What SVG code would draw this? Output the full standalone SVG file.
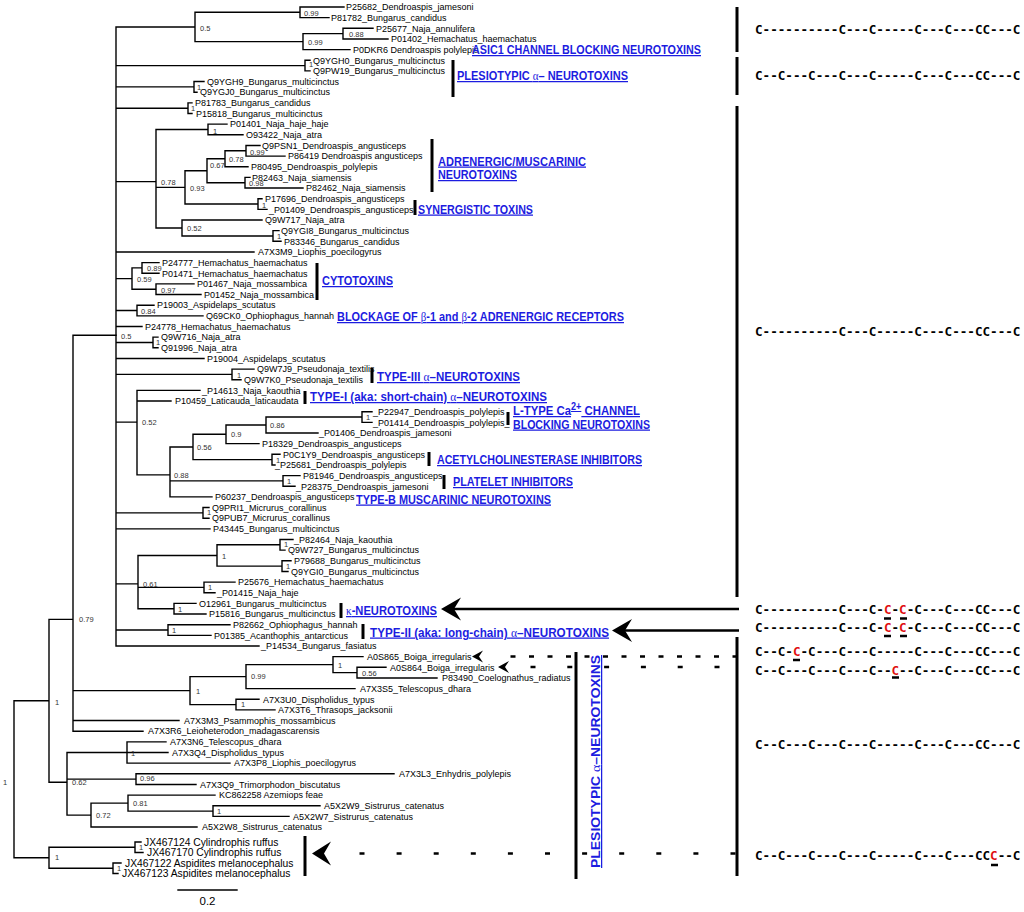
<svg xmlns="http://www.w3.org/2000/svg" width="1024" height="912" viewBox="0 0 1024 912">
<defs>
<style>
.e{stroke:#000;stroke-width:1.4;fill:none;stroke-linecap:square}
.t{font-family:"Liberation Sans",Arial,sans-serif;font-size:9px;fill:#000}
.j{font-family:"Liberation Sans",Arial,sans-serif;font-size:10.3px;fill:#000}
.s{font-family:"Liberation Sans",Arial,sans-serif;font-size:7.5px;fill:#333}
.lab{font-family:"Liberation Sans",Arial,sans-serif;font-weight:bold;font-size:12.5px;fill:#1c1ce0;text-decoration:underline}
.g{font-family:"Liberation Serif",serif;font-weight:normal}
.bar{stroke:#000;stroke-width:3;fill:none}
.cys{font-family:"DejaVu Sans Mono",monospace;font-weight:bold;font-size:12.6px;fill:#000}
.r{fill:#e01010}
.ah{fill:#000}
.dash{stroke:#000;stroke-width:2.6;fill:none}
</style>
</defs>
<rect width="1024" height="912" fill="#fff"/>

<g id="connectors">
<path class="e" d="M14,700.8V857.75M14,700.8H49M14,857.75H49
M49,619.4V782.2M49,619.4H73M49,782.2H67
M49,847.25V868.25M49,847.25H135M49,868.25H113
M135,842V852.5M135,842H141M135,852.5H143
M113,863V873.5M113,863H121M113,873.5H118
M73,335.3V731.2M73,335.3H116M73,690.6H190M73,720.55H179M73,731.2H143
M190,676.6V704.6M190,676.6H246M190,704.6H236
M246,664.6V688.6M246,664.6H333M246,688.6H355
M333,656.65V672.6M333,656.65H363M333,672.6H357
M357,667.3V677.95M357,667.3H386M357,677.95H437
M236,699.25V709.9M236,699.25H259M236,709.9H275
M67,752.5V815.1M67,752.5H127M67,779.1H136M67,815.1H91
M127,741.85V763.15M127,741.85H166M127,752.5H168M127,763.15H230
M136,773.8V784.45M136,773.8H394M136,784.45H196
M91,803.1V827.05M91,803.1H128M91,827.05H197
M128,795.1V811.1M128,795.1H215M128,811.1H213
M213,805.75V816.4M213,805.75H320M213,816.4H289"/>
<path class="e" d="M116,27V646
M116,27H195M116,65.6H305M116,86.9H194M116,108.2H188M116,181.6H156M116,251.95H254M116,278.6H132M116,310.5H137M116,326.5H142M116,342.5H153M116,358.45H204M116,374.4H232M116,422.1H137M116,512.9H203M116,528.85H210M116,583.9H138M116,630H168M116,646H259
M195,12.3V41.6M195,12.3H300M195,41.6H303
M300,7V17.65M300,7H344M300,17.65H329
M303,33.6V49.6M303,33.6H343M303,49.6H350
M343,28.3V38.95M343,28.3H373M343,38.95H388
M305,60.25V70.9M305,60.25H310M305,70.9H310
M194,81.55V92.2M194,81.55H204M194,92.2H197
M188,102.85V113.5M188,102.85H192M188,113.5H192
M156,129.5V228M156,129.5H208M156,187.4H185M156,228H182
M208,124.15V134.8M208,124.15H227M208,134.8H243
M185,170.7V204M185,170.7H207M185,204H258
M207,158.8V182.7M207,158.8H225M207,182.7H245
M225,150.8V166.75M225,150.8H246M225,166.75H248
M246,145.45V156.1M246,145.45H260M246,156.1H285
M245,177.4V188.05M245,177.4H250M245,188.05H303
M258,198.7V209.35M258,198.7H262M258,209.35H267
M182,220V236M182,220H262M182,236H273
M273,230.65V241.3M273,230.65H279M273,241.3H281
M132,267.9V289.2M132,267.9H142M132,289.2H156
M142,262.6V273.25M142,262.6H159M142,273.25H159
M156,283.9V294.55M156,283.9H194M156,294.55H201
M137,305.2V315.85M137,305.2H154M137,315.85H203
M153,337.15V347.8M153,337.15H158M153,347.8H158
M232,369.1V379.75M232,369.1H254M232,379.75H241
M137,390.4V474.9M137,390.4H200M137,401.05H171M137,474.9H170
M170,447V496.9M170,447H193M170,480.9H283M170,496.9H212
M193,434.3V459.6M193,434.3H226M193,459.6H272
M226,425V443.65M226,425H266M226,443.65H259
M266,417V433M266,417H362M266,433H318
M362,411.7V422.35M362,411.7H372M362,422.35H372
M272,454.3V464.95M272,454.3H280M272,464.95H275
M283,475.6V486.25M283,475.6H300M283,486.25H295
M203,507.55V518.2M203,507.55H209M203,518.2H209
M138,555.5V608.7M138,555.5H217M138,587.4H204M138,608.7H174
M217,544.8V566.1M217,544.8H280M217,566.1H282
M280,539.5V550.15M280,539.5H293M280,550.15H285
M282,560.8V571.45M282,560.8H291M282,571.45H288
M204,582.1V592.75M204,582.1H235M204,592.75H215
M174,603.4V614.05M174,603.4H196M174,614.05H206
M168,624.7V635.35M168,624.7H230M168,635.35H211"/>
</g>

<g id="support-values">
<text class="s" x="304" y="15.5">0.99</text>
<text class="s" x="200" y="30.5">0.5</text>
<text class="s" x="349" y="36.5">0.88</text>
<text class="s" x="308" y="45">0.99</text>
<text class="s" x="309" y="67">1</text>
<text class="s" x="197" y="89.5">1</text>
<text class="s" x="191" y="110.5">1</text>
<text class="s" x="213" y="133.5">1</text>
<text class="s" x="250" y="154.5">0.99</text>
<text class="s" x="229" y="161.5">0.78</text>
<text class="s" x="210" y="168">0.67</text>
<text class="s" x="249" y="185.5">0.98</text>
<text class="s" x="190" y="190.5">0.93</text>
<text class="s" x="262" y="208">1</text>
<text class="s" x="161" y="184.5">0.78</text>
<text class="s" x="187" y="230.5">0.52</text>
<text class="s" x="277" y="238.5">1</text>
<text class="s" x="147" y="270.5">0.89</text>
<text class="s" x="137" y="281.5">0.59</text>
<text class="s" x="161" y="292.5">0.97</text>
<text class="s" x="141" y="313.5">0.84</text>
<text class="s" x="121" y="338.5">0.5</text>
<text class="s" x="156" y="344.5">1</text>
<text class="s" x="237" y="377.5">1</text>
<text class="s" x="142" y="424.5">0.52</text>
<text class="s" x="366" y="419.5">1</text>
<text class="s" x="270" y="427.5">0.86</text>
<text class="s" x="231" y="436.5">0.9</text>
<text class="s" x="197" y="449.5">0.56</text>
<text class="s" x="276" y="462.5">1</text>
<text class="s" x="174" y="477.5">0.88</text>
<text class="s" x="287" y="483.5">1</text>
<text class="s" x="207" y="515">1</text>
<text class="s" x="222" y="558.5">1</text>
<text class="s" x="284" y="547">1</text>
<text class="s" x="286" y="569">1</text>
<text class="s" x="143" y="586.5">0.61</text>
<text class="s" x="208" y="590">1</text>
<text class="s" x="178" y="611.5">1</text>
<text class="s" x="79" y="621.5">0.79</text>
<text class="s" x="172" y="633">1</text>
<text class="s" x="338" y="667.5">1</text>
<text class="s" x="362" y="675.5">0.56</text>
<text class="s" x="251" y="678.5">0.99</text>
<text class="s" x="196" y="693.5">1</text>
<text class="s" x="241" y="706.5">1</text>
<text class="s" x="55" y="704.5">1</text>
<text class="s" x="131" y="755.5">1</text>
<text class="s" x="72" y="785">0.62</text>
<text class="s" x="140" y="781">0.96</text>
<text class="s" x="133" y="805.5">0.81</text>
<text class="s" x="217" y="813.5">1</text>
<text class="s" x="96" y="817.5">0.72</text>
<text class="s" x="3" y="784.5">1</text>
<text class="s" x="139" y="849.5">1</text>
<text class="s" x="117" y="870.5">1</text>
<text class="s" x="55" y="860">1</text>
</g>

<g id="leaves">
<g id="n00"><text class="t" x="346" y="10.2">P25682_Dendroaspis_jamesoni</text></g>
<g id="n01"><text class="t" x="331" y="20.9">P81782_Bungarus_candidus</text></g>
<g id="n02"><text class="t" x="376" y="31.5">P25677_Naja_annulifera</text></g>
<g id="n03"><text class="t" x="391" y="42.2">P01402_Hemachatus_haemachatus</text></g>
<g id="n04"><text class="t" x="353" y="52.8">P0DKR6 Dendroaspis polylepis</text></g>
<g id="n05"><text class="t" x="313" y="63.5">Q9YGH0_Bungarus_multicinctus</text></g>
<g id="n06"><text class="t" x="313" y="74.1">Q9PW19_Bungarus_multicinctus</text></g>
<g id="n07"><text class="t" x="207" y="84.8">Q9YGH9_Bungarus_multicinctus</text></g>
<g id="n08"><text class="t" x="200" y="95.4">Q9YGJ0_Bungarus_multicinctus</text></g>
<g id="n09"><text class="t" x="195" y="106.1">P81783_Bungarus_candidus</text></g>
<g id="n10"><text class="t" x="196" y="116.7">P15818_Bungarus_multicinctus</text></g>
<g id="n11"><text class="t" x="230" y="127.4">P01401_Naja_haje_haje</text></g>
<g id="n12"><text class="t" x="246" y="138">O93422_Naja_atra</text></g>
<g id="n13"><text class="t" x="262" y="148.7">Q9PSN1_Dendroaspis_angusticeps</text></g>
<g id="n14"><text class="t" x="288" y="159.3">P86419 Dendroaspis angusticeps</text></g>
<g id="n15"><text class="t" x="251" y="170">P80495_Dendroaspis_polylepis</text></g>
<g id="n16"><text class="t" x="252" y="180.6">P82463_Naja_siamensis</text></g>
<g id="n17"><text class="t" x="306" y="191.3">P82462_Naja_siamensis</text></g>
<g id="n18"><text class="t" x="265" y="201.9">P17696_Dendroaspis_angusticeps</text></g>
<g id="n19"><text class="t" x="269" y="212.6">_P01409_Dendroaspis_angusticeps</text></g>
<g id="n20"><text class="t" x="265" y="223.2">Q9W717_Naja_atra</text></g>
<g id="n21"><text class="t" x="281" y="233.9">Q9YGI8_Bungarus_multicinctus</text></g>
<g id="n22"><text class="t" x="284" y="244.5">P83346_Bungarus_candidus</text></g>
<g id="n23"><text class="t" x="258" y="255.2">A7X3M9_Liophis_poecilogyrus</text></g>
<g id="n24"><text class="t" x="162" y="265.8">P24777_Hemachatus_haemachatus</text></g>
<g id="n25"><text class="t" x="162" y="276.5">P01471_Hemachatus_haemachatus</text></g>
<g id="n26"><text class="t" x="197" y="287.1">P01467_Naja_mossambica</text></g>
<g id="n27"><text class="t" x="204" y="297.8">P01452_Naja_mossambica</text></g>
<g id="n28"><text class="t" x="157" y="308.4">P19003_Aspidelaps_scutatus</text></g>
<g id="n29"><text class="t" x="206" y="319.1">Q69CK0_Ophiophagus_hannah</text></g>
<g id="n30"><text class="t" x="145" y="329.7">P24778_Hemachatus_haemachatus</text></g>
<g id="n31"><text class="t" x="161" y="340.4">Q9W716_Naja_atra</text></g>
<g id="n32"><text class="t" x="161" y="351">Q91996_Naja_atra</text></g>
<g id="n33"><text class="t" x="207" y="361.7">P19004_Aspidelaps_scutatus</text></g>
<g id="n34"><text class="t" x="257" y="372.3">Q9W7J9_Pseudonaja_textilis</text></g>
<g id="n35"><text class="t" x="244" y="383">Q9W7K0_Pseudonaja_textilis</text></g>
<g id="n36"><text class="t" x="202" y="393.6">_P14613_Naja_kaouthia</text></g>
<g id="n37"><text class="t" x="175" y="404.3">P10459_Laticauda_laticaudata</text></g>
<g id="n38"><text class="t" x="373" y="414.9">_P22947_Dendroaspis_polylepis</text></g>
<g id="n39"><text class="t" x="373" y="425.6">_P01414_Dendroaspis_polylepis_</text></g>
<g id="n40"><text class="t" x="319" y="436.2">_P01406_Dendroaspis_jamesoni</text></g>
<g id="n41"><text class="t" x="262" y="446.9">P18329_Dendroaspis_angusticeps</text></g>
<g id="n42"><text class="t" x="283" y="457.5">P0C1Y9_Dendroaspis_angusticeps</text></g>
<g id="n43"><text class="t" x="275" y="468.2">_P25681_Dendroaspis_polylepis</text></g>
<g id="n44"><text class="t" x="303" y="478.8">P81946_Dendroaspis_angusticeps</text></g>
<g id="n45"><text class="t" x="296" y="489.5">_P28375_Dendroaspis_jamesoni</text></g>
<g id="n46"><text class="t" x="215" y="500.1">P60237_Dendroaspis_angusticeps</text></g>
<g id="n47"><text class="t" x="212" y="510.8">Q9PRI1_Micrurus_corallinus</text></g>
<g id="n48"><text class="t" x="212" y="521.4">Q9PUB7_Micrurus_corallinus</text></g>
<g id="n49"><text class="t" x="213" y="532.1">P43445_Bungarus_multicinctus</text></g>
<g id="n50"><text class="t" x="294" y="542.7">_P82464_Naja_kaouthia</text></g>
<g id="n51"><text class="t" x="288" y="553.4">Q9W727_Bungarus_multicinctus</text></g>
<g id="n52"><text class="t" x="294" y="564">P79688_Bungarus_multicinctus</text></g>
<g id="n53"><text class="t" x="291" y="574.7">Q9YGI0_Bungarus_multicinctus</text></g>
<g id="n54"><text class="t" x="238" y="585.3">P25676_Hemachatus_haemachatus</text></g>
<g id="n55"><text class="t" x="217" y="596">_P01415_Naja_haje</text></g>
<g id="n56"><text class="t" x="199" y="606.6">O12961_Bungarus_multicinctus</text></g>
<g id="n57"><text class="t" x="209" y="617.3">P15816_Bungarus_multicinctus</text></g>
<g id="n58"><text class="t" x="233" y="627.9">P82662_Ophiophagus_hannah</text></g>
<g id="n59"><text class="t" x="214" y="638.6">P01385_Acanthophis_antarcticus</text></g>
<g id="n60"><text class="t" x="261" y="649.2">_P14534_Bungarus_fasiatus</text></g>
<g id="n61"><text class="t" x="367" y="659.9">A0S865_Boiga_irregularis</text></g>
<g id="n62"><text class="t" x="390" y="670.5">A0S864_Boiga_irregularis</text></g>
<g id="n63"><text class="t" x="442" y="681.2">P83490_Coelognathus_radiatus</text></g>
<g id="n64"><text class="t" x="360" y="691.8">A7X3S5_Telescopus_dhara</text></g>
<g id="n65"><text class="t" x="263" y="702.5">A7X3U0_Dispholidus_typus</text></g>
<g id="n66"><text class="t" x="278" y="713.1">A7X3T6_Thrasops_jacksonii</text></g>
<g id="n67"><text class="t" x="184" y="723.8">A7X3M3_Psammophis_mossambicus</text></g>
<g id="n68"><text class="t" x="148" y="734.4">A7X3R6_Leioheterodon_madagascarensis</text></g>
<g id="n69"><text class="t" x="170" y="745.1">A7X3N6_Telescopus_dhara</text></g>
<g id="n70"><text class="t" x="172" y="755.7">A7X3Q4_Dispholidus_typus</text></g>
<g id="n71"><text class="t" x="234" y="766.4">A7X3P8_Liophis_poecilogyrus</text></g>
<g id="n72"><text class="t" x="399" y="777">A7X3L3_Enhydris_polylepis</text></g>
<g id="n73"><text class="t" x="200" y="787.7">A7X3Q9_Trimorphodon_biscutatus</text></g>
<g id="n74"><text class="t" x="219" y="798.3">KC862258 Azemiops feae</text></g>
<g id="n75"><text class="t" x="324" y="809">A5X2W9_Sistrurus_catenatus</text></g>
<g id="n76"><text class="t" x="293" y="819.6">A5X2W7_Sistrurus_catenatus</text></g>
<g id="n77"><text class="t" x="202" y="830.3">A5X2W8_Sistrurus_catenatus</text></g>
<g id="n78"><text class="j" x="144" y="845.7">JX467124 Cylindrophis ruffus</text></g>
<g id="n79"><text class="j" x="147" y="856.2">JX467170 Cylindrophis ruffus</text></g>
<g id="n80"><text class="j" x="125" y="866.7">JX467122 Aspidites melanocephalus</text></g>
<g id="n81"><text class="j" x="122" y="877.2">JX467123 Aspidites melanocephalus</text></g>
</g>

<g id="scale-bar">
<path class="e" d="M178,890H237"/>
<text x="207.5" y="905" text-anchor="middle" style="font-family:'Liberation Sans',Arial,sans-serif;font-size:11.5px">0.2</text>
</g>

<g id="annotations">
<g id="asic1"><text class="lab" x="472" y="54" textLength="229" lengthAdjust="spacingAndGlyphs">ASIC1 CHANNEL BLOCKING NEUROTOXINS</text></g>
<g id="plesio1"><path class="bar" d="M453,60V97"/><text class="lab" x="457" y="80" textLength="171" lengthAdjust="spacingAndGlyphs">PLESIOTYPIC <tspan class="g">α</tspan>– NEUROTOXINS</text></g>
<g id="adrenergic"><path class="bar" d="M432,139V192"/><text class="lab" x="438" y="165.5" textLength="148" lengthAdjust="spacingAndGlyphs">ADRENERGIC/MUSCARINIC</text><text class="lab" x="438" y="179" textLength="79" lengthAdjust="spacingAndGlyphs">NEUROTOXINS</text></g>
<g id="synergistic"><path class="bar" d="M415,200V215"/><text class="lab" x="418" y="213.5" textLength="115" lengthAdjust="spacingAndGlyphs">SYNERGISTIC TOXINS</text></g>
<g id="cytotoxins"><path class="bar" d="M317,263V300"/><text class="lab" x="322" y="285" textLength="71" lengthAdjust="spacingAndGlyphs">CYTOTOXINS</text></g>
<g id="blockage"><text class="lab" x="337" y="321" textLength="287" lengthAdjust="spacingAndGlyphs">BLOCKAGE OF <tspan class="g">β</tspan>-1 and <tspan class="g">β</tspan>-2 ADRENERGIC RECEPTORS</text></g>
<g id="type3"><path class="bar" d="M372,368V383"/><text class="lab" x="377" y="381" textLength="143" lengthAdjust="spacingAndGlyphs">TYPE-III <tspan class="g">α</tspan>–NEUROTOXINS</text></g>
<g id="type1"><path class="bar" d="M305,391V404"/><text class="lab" x="310" y="401" textLength="237" lengthAdjust="spacingAndGlyphs">TYPE-I (aka: short-chain) <tspan class="g">α</tspan>–NEUROTOXINS</text></g>
<g id="ltype"><path class="bar" d="M508,412V425"/><text class="lab" x="513" y="415" textLength="127" lengthAdjust="spacingAndGlyphs">L-TYPE Ca<tspan dy="-5" font-size="10">2+</tspan><tspan dy="5"> CHANNEL</tspan></text><text class="lab" x="513" y="428.5" textLength="137" lengthAdjust="spacingAndGlyphs">BLOCKING NEUROTOXINS</text></g>
<g id="acetyl"><path class="bar" d="M429,452V466"/><text class="lab" x="437" y="464" textLength="205" lengthAdjust="spacingAndGlyphs">ACETYLCHOLINESTERASE INHIBITORS</text></g>
<g id="platelet"><path class="bar" d="M444,475V489"/><text class="lab" x="453" y="486" textLength="120" lengthAdjust="spacingAndGlyphs">PLATELET INHIBITORS</text></g>
<g id="typeb"><text class="lab" x="356" y="503.5" textLength="195" lengthAdjust="spacingAndGlyphs">TYPE-B MUSCARINIC NEUROTOXINS</text></g>
<g id="kappa"><path class="bar" d="M341,603V618"/><text class="lab" x="346" y="615" textLength="91" lengthAdjust="spacingAndGlyphs"><tspan class="g">κ</tspan>-NEUROTOXINS</text></g>
<g id="type2"><path class="bar" d="M363,624V639"/><text class="lab" x="370" y="636.5" textLength="239" lengthAdjust="spacingAndGlyphs">TYPE-II (aka: long-chain) <tspan class="g">α</tspan>–NEUROTOXINS</text></g>
<g id="plesio2"><path class="bar" d="M576,652V879"/><text class="lab" transform="translate(600,868) rotate(-90)" x="0" y="0" font-size="11" textLength="213" lengthAdjust="spacingAndGlyphs">PLESIOTYPIC <tspan class="g">α</tspan>–NEUROTOXINS</text></g>
<g id="jx-bar"><path class="bar" d="M305,836V876"/></g>
</g>

<g id="arrows">
<path d="M452,609H739" stroke="#000" stroke-width="2.6"/>
<path class="ah" d="M441,609L461,597.5L454,609L461,620.5Z"/>
<path d="M623,630.5H739" stroke="#000" stroke-width="2.6"/>
<path class="ah" d="M612,630.5L632,619L625,630.5L632,642Z"/>
<path class="ah" d="M312,853.5L331,841.5L324,853.5L331,865.5Z"/>
<path class="ah" d="M472,656.5L483,650.5L479,656.5L483,662.5Z"/>
<path class="ah" d="M498,667L509,661L505,667L509,673Z"/>
<path class="dash" d="M510.5,656.5H740" stroke-dasharray="5 13.5"/>
<path class="dash" d="M530.5,667H722" stroke-dasharray="5 31.8"/>
<path class="dash" d="M359.5,853.5H738" stroke-dasharray="5 32.1"/>
</g>

<g id="cysteine-panel">
<path class="bar" d="M737,7V52M737,57V95M737,106V597M737,637V876" stroke-width="3.2"/>
<text class="cys" x="755" y="34">C----------C---C-----C---C---CC---C</text>
<text class="cys" x="755" y="80">C--C---C---C---C-----C---C---CC---C</text>
<text class="cys" x="755" y="336">C----------C---C-----C---C---CC---C</text>
<text class="cys" x="755" y="613.5">C----------C---C-<tspan class="r">C</tspan>-<tspan class="r">C</tspan>-C---C---CC---C</text>
<text class="cys" x="755" y="632">C----------C---C-<tspan class="r">C</tspan>-<tspan class="r">C</tspan>-C---C---CC---C</text>
<text class="cys" x="755" y="655.5">C--C-<tspan class="r">C</tspan>-C---C---C-----C---C---CC---C</text>
<text class="cys" x="755" y="674.5">C--C---C---C---C--<tspan class="r">C</tspan>--C---C---CC---C</text>
<text class="cys" x="755" y="749">C--C---C---C---C-----C---C---CC---C</text>
<text class="cys" x="755" y="859.5">C--C---C---C---C-----C---C---CC<tspan class="r">C</tspan>--C</text>
<path d="M884,618.5h7M900,618.5h7M884,636h7M900,636h7M793,660h7M892,677.5h7M991,865h7" stroke="#000" stroke-width="2.6"/>
</g>
</svg>
